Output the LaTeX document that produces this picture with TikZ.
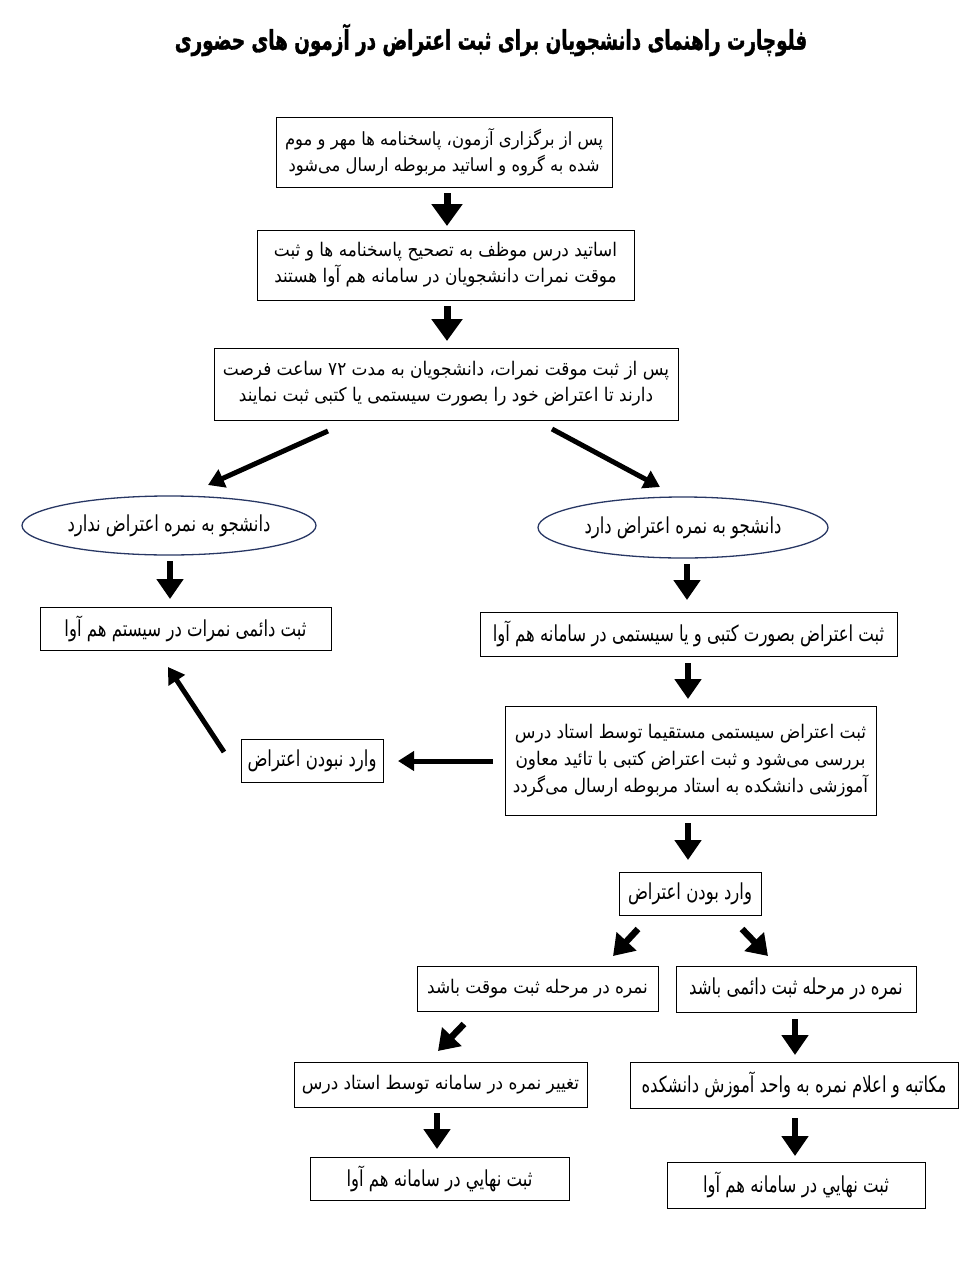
\documentclass[tikz,border=0pt]{standalone}
\usepackage{fontspec}
\usetikzlibrary{arrows.meta,shapes.geometric}
\TeXXeTstate=1
\newfontfamily\fa[Script=Arabic,FakeStretch=0.9]{DejaVu Sans}
\newfontfamily\facond[Script=Arabic,FakeStretch=0.75]{DejaVu Sans}
\newfontfamily\fatitle[Script=Arabic,FakeStretch=0.68,FakeBold=1.2]{DejaVu Sans Bold}
\definecolor{navy}{RGB}{40,55,100}
\newcommand{\RL}[1]{\beginR #1\endR}
\tikzset{
  box/.style={draw=black, line width=1pt, rectangle, inner sep=2pt, align=center, font=\fa\fontsize{18.8}{26}\selectfont},
  cbox/.style={draw=black, line width=1pt, rectangle, inner sep=2pt, align=center, font=\facond\fontsize{22}{26}\selectfont},
  oval/.style={draw=navy, line width=1.3pt, ellipse, inner sep=0pt, font=\facond\fontsize{22}{24}\selectfont},
  hugearrow/.style={line width=7pt, -{Triangle[length=22pt,width=30pt]}},
  bigarrow/.style={line width=6.5pt, -{Triangle[length=20pt,width=26pt]}},
  midarrow/.style={line width=5pt, -{Triangle[length=16pt,width=19pt]}},
}
\begin{document}
\begin{tikzpicture}[x=1pt,y=-1pt]
\useasboundingbox (0,0) rectangle (977,1263);
% title
\node (title) at (491,40) {\fatitle\fontsize{27}{30}\selectfont\RL{فلوچارت راهنمای دانشجویان برای ثبت اعتراض در آزمون های حضوری}};
% boxes
\node[box, minimum width=336pt, minimum height=70pt, font=\fa\fontsize{18.2}{26}\selectfont] (b1) at (444,152) {\RL{پس از برگزاری آزمون، پاسخنامه ها مهر و موم}\\\RL{شده به گروه و اساتید مربوطه ارسال می‌شود}};
\node[box, minimum width=377pt, minimum height=70pt] (b2) at (445.5,265) {\RL{اساتید درس موظف به تصحیح پاسخنامه ها و ثبت}\\\RL{موقت نمرات دانشجویان در سامانه هم آوا هستند}};
\node[box, minimum width=464pt, minimum height=72pt] (b3) at (446,384) {\RL{پس از ثبت موقت نمرات، دانشجویان به مدت ۷۲ ساعت فرصت}\\\RL{دارند تا اعتراض خود را بصورت سیستمی یا کتبی ثبت نمایند}};
\node[oval, minimum width=294pt, minimum height=59pt] (eL) at (169,525.5) {\RL{دانشجو به نمره اعتراض ندارد}};
\node[oval, minimum width=290pt, minimum height=61pt] (eR) at (683,527.5) {\RL{دانشجو به نمره اعتراض دارد}};
\node[cbox, minimum width=291pt, minimum height=43pt] (bL1) at (185.5,628.5) {\RL{ثبت دائمی نمرات در سیستم هم آوا}};
\node[cbox, minimum width=417pt, minimum height=44pt] (bR1) at (688.5,634) {\RL{ثبت اعتراض بصورت کتبی و یا سیستمی در سامانه هم آوا}};
\node[box, minimum width=371pt, minimum height=109pt, font=\fa\fontsize{18.8}{27}\selectfont] (big) at (690.5,760.5) {\RL{ثبت اعتراض سیستمی مستقیما توسط استاد درس}\\\RL{بررسی می‌شود و ثبت اعتراض کتبی با تائید معاون}\\\RL{آموزشی دانشکده به استاد مربوطه ارسال می‌گردد}};
\node[cbox, minimum width=142pt, minimum height=43pt] (no) at (312,760.5) {\RL{وارد نبودن اعتراض}};
\node[cbox, minimum width=142pt, minimum height=43pt] (yes) at (690,893.5) {\RL{وارد بودن اعتراض}};
\node[box, minimum width=241pt, minimum height=45pt] (temp) at (537.5,988.5) {\RL{نمره در مرحله ثبت موقت باشد}};
\node[cbox, minimum width=240pt, minimum height=46pt] (perm) at (796,989) {\RL{نمره در مرحله ثبت دائمی باشد}};
\node[box, minimum width=293pt, minimum height=45pt] (chg) at (440.5,1084.5) {\RL{تغییر نمره در سامانه توسط استاد درس}};
\node[cbox, minimum width=328pt, minimum height=46pt] (let) at (794,1085) {\RL{مکاتبه و اعلام نمره به واحد آموزش دانشکده}};
\node[cbox, minimum width=259pt, minimum height=43pt] (finL) at (439.5,1178.5) {\RL{ثبت نهايي در سامانه هم آوا}};
\node[cbox, minimum width=258pt, minimum height=46pt] (finR) at (796,1185) {\RL{ثبت نهايي در سامانه هم آوا}};
% arrow end points (arrows float between boxes)
\coordinate (a1s) at (447,193);   \coordinate (a1e) at (447,226);
\coordinate (a2s) at (447,306);   \coordinate (a2e) at (447,341);
\coordinate (a3s) at (328,431);   \coordinate (a3e) at (208,485);
\coordinate (a4s) at (552,429);   \coordinate (a4e) at (660,487);
\coordinate (a5s) at (170,561);   \coordinate (a5e) at (170,599);
\coordinate (a6s) at (687,564);   \coordinate (a6e) at (687,600);
\coordinate (a7s) at (688,663);   \coordinate (a7e) at (688,699);
\coordinate (a8s) at (493,761);   \coordinate (a8e) at (398,761);
\coordinate (a9s) at (224,752);   \coordinate (a9e) at (168,667);
\coordinate (a10s) at (688,823);  \coordinate (a10e) at (688,860);
\coordinate (a11s) at (638,929);  \coordinate (a11e) at (613,956);
\coordinate (a12s) at (742,929);  \coordinate (a12e) at (768,956);
\coordinate (a13s) at (464,1024); \coordinate (a13e) at (438,1051);
\coordinate (a14s) at (795,1019); \coordinate (a14e) at (795,1055);
\coordinate (a15s) at (437,1113); \coordinate (a15e) at (437,1149);
\coordinate (a16s) at (795,1118); \coordinate (a16e) at (795,1156);
\draw[hugearrow] (a1s) -- (a1e);
\draw[hugearrow] (a2s) -- (a2e);
\draw[midarrow] (a3s) -- (a3e);
\draw[midarrow] (a4s) -- (a4e);
\draw[bigarrow] (a5s) -- (a5e);
\draw[bigarrow] (a6s) -- (a6e);
\draw[bigarrow] (a7s) -- (a7e);
\draw[midarrow] (a8s) -- (a8e);
\draw[midarrow] (a9s) -- (a9e);
\draw[bigarrow] (a10s) -- (a10e);
\draw[bigarrow] (a11s) -- (a11e);
\draw[bigarrow] (a12s) -- (a12e);
\draw[bigarrow] (a13s) -- (a13e);
\draw[bigarrow] (a14s) -- (a14e);
\draw[bigarrow] (a15s) -- (a15e);
\draw[bigarrow] (a16s) -- (a16e);
\end{tikzpicture}
\end{document}
